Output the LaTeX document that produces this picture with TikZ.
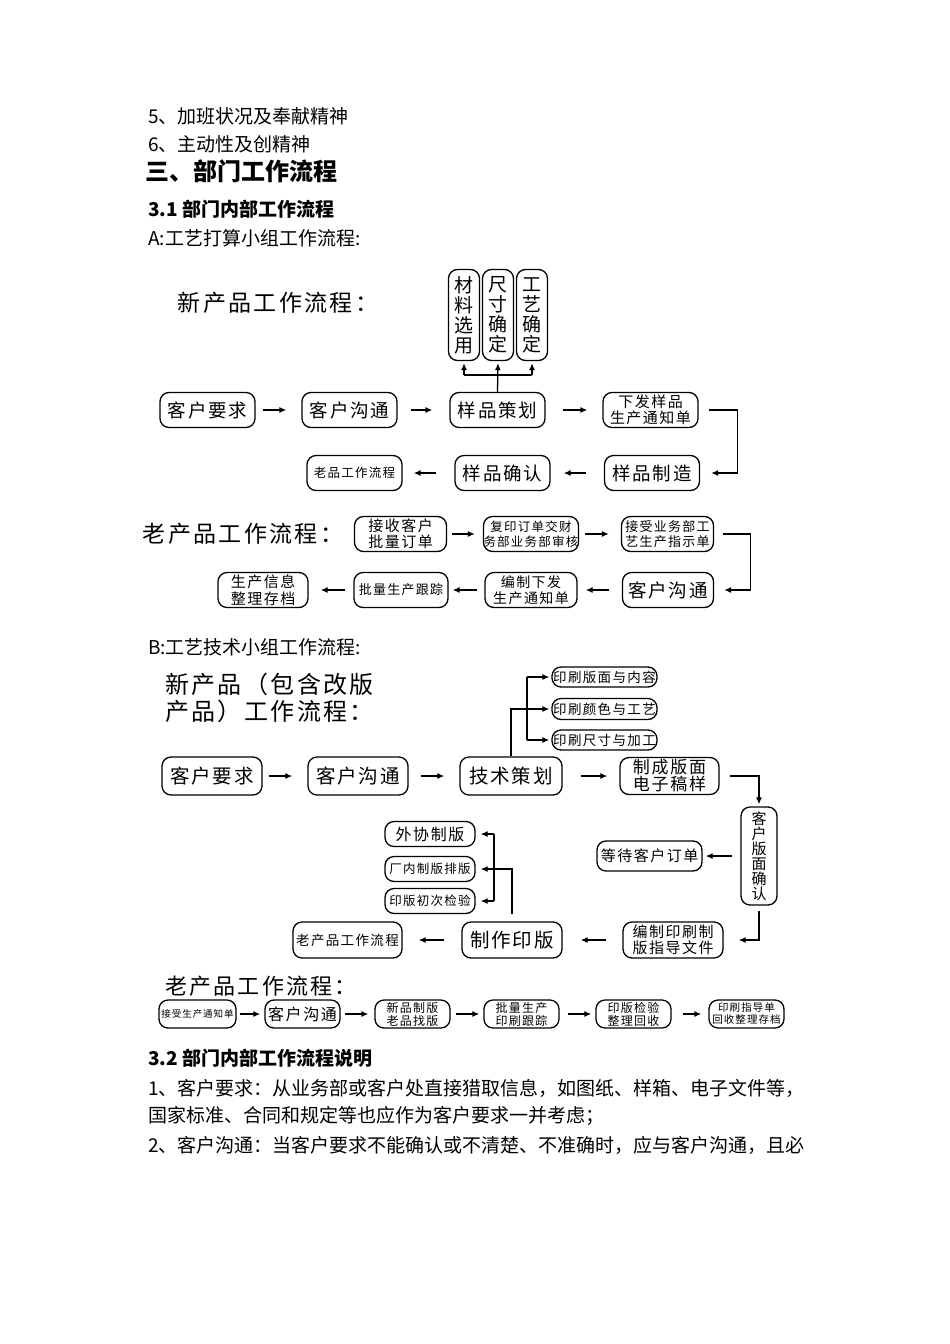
\documentclass[tikz,border=0pt]{standalone}
\usepackage{fontspec}
\setmainfont{Noto Sans CJK SC}
\usetikzlibrary{arrows.meta,positioning}
\newcommand\fsz[2]{\fontsize{#1}{#2}\selectfont}
\newcommand\tsz[2]{\fontsize{#1}{#2}\selectfont\addfontfeature{LetterSpace=10}}
\tikzset{
  flowbox/.style={draw, line width=1.3pt, rounded corners=9pt, inner sep=0pt, align=center},
  fbox/.style={flowbox, minimum width=95pt, minimum height=35pt},
  vbox/.style={flowbox, minimum width=31pt, minimum height=91pt, font={\fsz{19}{20}}},
  sbox/.style={flowbox, minimum width=75pt, minimum height=28pt},
  flowarr/.style={line width=1.3pt, -{Latex[length=7pt,width=6pt]}},
  flowline/.style={line width=1.3pt},
  bodytext/.style={anchor=west, inner sep=0pt, font={\fsz{19}{22}}},
}
\begin{document}
\begin{tikzpicture}[x=1pt,y=-1pt]
  \useasboundingbox[fill=white] (0,0) rectangle (950,1344);

  \node[bodytext] (l5) at (148,116) {5、加班状况及奉献精神};
  \node[bodytext] (l6) at (148,144) {6、主动性及创精神};
  \node[bodytext, font={\fsz{24}{26}\bfseries}] (sec3) at (145,171) {三、部门工作流程};
  \node[bodytext, font={\fsz{19}{22}\bfseries}] (sec31) at (148,209) {3.1 部门内部工作流程};
  \node[bodytext] (secA) at (148,238) {A:工艺打算小组工作流程:}; %見出し

  \node[font={\tsz{23}{26}}] (ttlA) at (278,303) {新产品工作流程：};
  \node[vbox] (mat) at (464,315) {材\\料\\选\\用};
  \node[vbox] (dim) at (498,315) {尺\\寸\\确\\定};
  \node[vbox] (proc) at (532,315) {工\\艺\\确\\定}; %縦の箱
  \node[fbox, font={\tsz{18.5}{22}}] (reqA) at (207.5,410) {客户要求};
  \node[fbox, font={\tsz{18.5}{22}}] (comA) at (349.5,410) {客户沟通};
  \node[fbox, font={\tsz{18.5}{22}}] (plnA) at (497.5,410) {样品策划};
  \node[fbox, font={\tsz{15}{16}}] (ntcA) at (650.5,410) {下发样品\\生产通知单};
  \node[fbox, font={\tsz{18.5}{22}}] (mkA) at (652,473) {样品制造};
  \node[fbox, font={\tsz{18.5}{22}}] (cfA) at (502.5,473) {样品确认};
  \node[fbox, font={\tsz{12.5}{15}}] (oldA) at (354.5,473) {老品工作流程}; %新製品の箱

  \draw[flowarr, shorten <=7pt, shorten >=15pt] (reqA.east) -- (comA.west);
  \draw[flowarr, shorten <=13pt, shorten >=17pt] (comA.east) -- (plnA.west);
  \draw[flowarr, shorten <=17pt, shorten >=15pt] (plnA.east) -- (ntcA.west);
  \draw[flowarr, shorten >=11pt] ([xshift=10pt]ntcA.east) -- ++(29,0) |- (mkA.east);
  \draw[flowarr, shorten <=18pt, shorten >=13pt] (mkA.west) -- (cfA.east);
  \draw[flowarr, shorten <=18pt, shorten >=11pt] (cfA.west) -- (oldA.east); %横の矢印
  \coordinate (brA) at (498,375);
  \draw[flowarr, shorten >=2pt] (plnA.north) -- (dim.south);
  \draw[flowline] (mat.south |- brA) -- (proc.south |- brA);
  \draw[flowarr, shorten >=2pt] (mat.south |- brA) -- (mat.south);
  \draw[flowarr, shorten >=2pt] (proc.south |- brA) -- (proc.south); %上の分岐

  \node[font={\tsz{23}{26}}] (ttlOA) at (243,534) {老产品工作流程：};
  \node[fbox, minimum width=92pt, font={\tsz{15}{16}}] (rcvA) at (400.5,534) {接收客户\\批量订单};
  \node[fbox, minimum width=92pt, font={\tsz{12.5}{15}}] (cpyA) at (531,534) {复印订单交财\\务部业务部审核};
  \node[fbox, minimum width=92pt, font={\tsz{13}{15}}] (accA) at (667.5,534) {接受业务部工\\艺生产指示单};
  \node[fbox, minimum width=91pt, font={\tsz{18.5}{22}}] (cmA2) at (668,590) {客户沟通};
  \node[fbox, minimum width=92pt, font={\tsz{14}{16}}] (issA) at (531,590) {编制下发\\生产通知单};
  \node[fbox, minimum width=94pt, font={\tsz{13}{16}}] (trkA) at (401,590) {批量生产跟踪};
  \node[fbox, minimum width=90pt, font={\tsz{15}{17}}] (arcA) at (263,590) {生产信息\\整理存档}; %旧製品の箱

  \draw[flowarr, shorten <=5pt, shorten >=8pt] (rcvA.east) -- (cpyA.west);
  \draw[flowarr, shorten <=6pt, shorten >=12pt] (cpyA.east) -- (accA.west);
  \draw[flowarr, shorten >=10pt] ([xshift=9pt]accA.east) -- ++(27,0) |- (cmA2.east);
  \draw[flowarr, shorten <=13pt, shorten >=8pt] (cmA2.west) -- (issA.east);
  \draw[flowarr, shorten <=7pt, shorten >=4pt] (issA.west) -- (trkA.east);
  \draw[flowarr, shorten <=8pt, shorten >=12pt] (trkA.west) -- (arcA.east);

  \node[bodytext] (secB) at (148,647) {B:工艺技术小组工作流程:};
  \node[anchor=west, inner sep=0pt, align=left, font={\tsz{24}{27}}] (ttlB) at (165,698) {新产品（包含改版\\产品）工作流程：};
  \node[fbox, minimum width=100pt, minimum height=38pt, font={\tsz{19.5}{22}}] (reqB) at (212,776) {客户要求};
  \node[fbox, minimum width=100pt, minimum height=38pt, font={\tsz{19.5}{22}}] (comB) at (358,776) {客户沟通};
  \node[fbox, minimum width=102pt, minimum height=38pt, font={\tsz{19.5}{22}}] (tplB) at (511,776) {技术策划};
  \node[fbox, minimum width=99pt, minimum height=37pt, font={\tsz{17}{17}}] (prfB) at (669.5,776) {制成版面\\电子稿样};
  \node[flowbox, minimum width=105pt, minimum height=20pt, font={\tsz{13.5}{15}}] (pr1) at (604.5,677) {印刷版面与内容};
  \node[flowbox, minimum width=105pt, minimum height=21pt, font={\tsz{13.5}{15}}] (pr2) at (604.5,709) {印刷颜色与工艺};
  \node[flowbox, minimum width=105pt, minimum height=20pt, font={\tsz{13.5}{15}}] (pr3) at (604.5,740) {印刷尺寸与加工};
  \node[flowbox, minimum width=36pt, minimum height=98pt, font={\fsz{15}{15}}] (cstB) at (759,856) {客\\户\\版\\面\\确\\认};
  \node[flowbox, minimum width=105pt, minimum height=30pt, font={\tsz{15}{17}}] (waitB) at (649.5,856) {等待客户订单};
  \node[fbox, minimum width=100pt, minimum height=36pt, font={\tsz{15}{16}}] (manB) at (673,940) {编制印刷制\\版指导文件};
  \node[fbox, minimum width=100pt, minimum height=36pt, font={\tsz{19.5}{22}}] (mkpB) at (512,940) {制作印版};
  \node[fbox, minimum width=109pt, minimum height=36pt, font={\tsz{13.5}{16}}] (oldB) at (347.5,940) {老产品工作流程};
  \node[flowbox, minimum width=90pt, minimum height=25pt, font={\tsz{16}{18}}] (ot1) at (430,834) {外协制版};
  \node[flowbox, minimum width=90pt, minimum height=25pt, font={\tsz{12.5}{15}}] (ot2) at (430,869) {厂内制版排版};
  \node[flowbox, minimum width=90pt, minimum height=25pt, font={\tsz{12.5}{15}}] (ot3) at (430,901) {印版初次检验}; %技術の箱

  \draw[flowarr, shorten <=6pt, shorten >=15pt] (reqB.east) -- (comB.west);
  \draw[flowarr, shorten <=12pt, shorten >=15pt] (comB.east) -- (tplB.west);
  \draw[flowarr, shorten <=18pt, shorten >=12pt] (tplB.east) -- (prfB.west);
  \draw[flowarr, shorten >=2pt] ([xshift=10pt]prfB.east) -| (cstB.north);
  \draw[flowarr, shorten <=8pt, shorten >=3pt] (cstB.west) -- (waitB.east);
  \draw[flowarr, shorten >=15pt] ([yshift=-5pt]cstB.south) |- (manB.east);
  \draw[flowarr, shorten <=16pt, shorten >=18pt] (manB.west) -- (mkpB.east);
  \draw[flowarr, shorten <=17pt, shorten >=16pt] (mkpB.west) -- (oldB.east); %横の矢印
  \coordinate (brB) at (527,709);
  \draw[flowline] (tplB.north) |- (brB);
  \draw[flowline] (brB |- pr1.west) -- (brB |- pr3.west);
  \foreach \p in {pr1,pr2,pr3}
    \draw[flowarr, shorten >=2pt] (brB |- \p.west) -- (\p.west); %右上の分岐
  \coordinate (brC) at (494,869);
  \draw[flowarr, shorten >=5pt] ([yshift=7pt]mkpB.north) |- (ot2.east);
  \draw[flowline] (brC |- ot1.east) -- (brC |- ot3.east);
  \draw[flowarr, shorten >=5pt] (brC |- ot1.east) -- (ot1.east);
  \draw[flowarr, shorten >=5pt] (brC |- ot3.east) -- (ot3.east); %左の分岐

  \node[font={\tsz{22}{25}}] (ttlOB) at (261,986) {老产品工作流程：};
  \node[sbox, minimum width=77pt, font={\tsz{9.5}{12}}] (ob1) at (197.5,1014) {接受生产通知单};
  \node[sbox, font={\tsz{16}{18}}] (ob2) at (302.5,1014) {客户沟通};
  \node[sbox, font={\tsz{12}{13}}] (ob3) at (412.5,1014) {新品制版\\老品找版};
  \node[sbox, font={\tsz{12}{13}}] (ob4) at (521.5,1014) {批量生产\\印刷跟踪};
  \node[sbox, font={\tsz{12}{13}}] (ob5) at (633.5,1014) {印版检验\\整理回收};
  \node[sbox, font={\tsz{10.5}{12}}] (ob6) at (746.5,1014) {印刷指导单\\回收整理存档};
  \draw[flowarr, shorten <=3pt, shorten >=4pt] (ob1.east) -- (ob2.west);
  \draw[flowarr, shorten <=4pt, shorten >=6pt] (ob2.east) -- (ob3.west);
  \draw[flowarr, shorten <=5pt, shorten >=4pt] (ob3.east) -- (ob4.west);
  \draw[flowarr, shorten <=8pt, shorten >=4pt] (ob4.east) -- (ob5.west);
  \draw[flowarr, shorten <=11pt, shorten >=7pt] (ob5.east) -- (ob6.west); %下の流れ

  \node[bodytext, font={\fsz{19}{22}\bfseries}] (sec32) at (148,1058) {3.2 部门内部工作流程说明};
  \node[bodytext] (d1) at (148,1088) {1、客户要求：从业务部或客户处直接猎取信息，如图纸、样箱、电子文件等，};
  \node[bodytext] (d2) at (148,1116) {国家标准、合同和规定等也应作为客户要求一并考虑；};
  \node[bodytext] (d3) at (148,1145) {2、客户沟通：当客户要求不能确认或不清楚、不准确时，应与客户沟通，且必};
\end{tikzpicture}
\end{document}
